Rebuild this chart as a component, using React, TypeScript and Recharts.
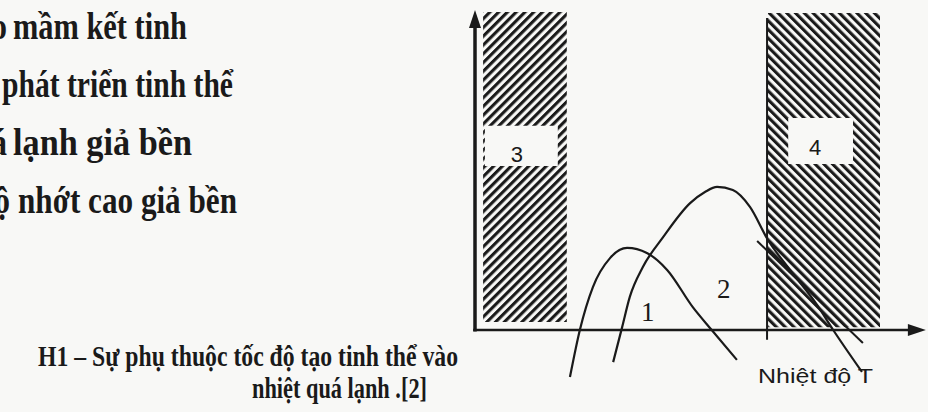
import React from 'react';
import { ComposedChart, Line, XAxis, YAxis, ReferenceArea, ReferenceLine, ReferenceDot } from 'recharts';

// curve 1 (nucleation rate) – undercooling T vs rate v
const curve1T = [21.1, 23.3, 26.2, 30.0, 33.8, 38.2, 42.7, 48.4, 52.6, 58.2];
const curve1V = [-14.8, 0, 13.5, 22.6, 25.8, 24.2, 18.9, 7.2, 0, -9.4];

// curve 2 (growth rate)
const curve2T = [30.7, 32.7, 34.4, 37.3, 41.8, 47.8, 51.1, 53.8, 57.3, 61.1, 65.1, 70.0, 76.0, 79.6, 86.0];
const curve2V = [-10.1, 0.9, 10.4, 19.8, 29.2, 39.9, 43.4, 45.0, 44.0, 38.7, 28.3, 18.9, 7.9, 0, -13.2];

// extra straight trace crossing zone 4
const traceT = [62.7, 86.2];
const traceV = [28.0, -4.1];

// hatched zones [T1, T2, v1, v2] and their label boxes
const zone3 = [1.8, 20.4, 2.5, 100];
const zone4 = [65.1, 90.0, 0.9, 99.7];
const box3 = [2.2, 18.4, 51.6, 64.2];
const box4 = [69.6, 84.0, 52.2, 66.7];
const zoneLabels = [
  { name: '3', t: 9.3, v: 55.3 },
  { name: '4', t: 75.6, v: 57.5 },
];
const curveLabels = [
  { name: '1', t: 38.4, v: 5.7 },
  { name: '2', t: 55.3, v: 13.2 },
];
const zone4Edge = [64.9, 98.1, -3.1];

// legend lines, cut by the left page edge: hidden head + visible tail
const legendHeads = ['Tốc độ tạo', 'Tốc độ', 'Vùng quá', 'Vùng độ'];
const legendTails = ['mầm kết tinh', 'phát triển tinh thể', 'lạnh giả bền', 'nhớt cao giả bền'];
const captionLines = ['H1 – Sự phụ thuộc tốc độ tạo tinh thể vào', 'nhiệt quá lạnh .[2]'];
const xAxisLabel = 'Nhiệt độ T';

const W = 928;
const H = 412;
const ORIGIN_X = 475;
const ORIGIN_Y = 330;
const PX_T = 4.5;
const PX_V = 3.18;
const xDomain = [-ORIGIN_X / PX_T, (W - ORIGIN_X) / PX_T];
const yDomain = [-(H - ORIGIN_Y) / PX_V, ORIGIN_Y / PX_V];

const INK = '#1a1a1a';
const PAPER = '#f8f8f6';
const serif = "'Liberation Serif', 'Times New Roman', serif";
const sans = "'Liberation Sans', Arial, sans-serif";

const toRows = (ts: number[], vs: number[]) => ts.map((t, i) => ({ t, v: vs[i] }));

const upArrow = (p: any) => (
  <polygon points={`${p.cx},${p.cy} ${p.cx - 6},${p.cy + 18} ${p.cx + 6},${p.cy + 18}`} fill={INK} />
);
const rightArrow = (p: any) => (
  <polygon points={`${p.cx},${p.cy} ${p.cx - 18},${p.cy - 6} ${p.cx - 18},${p.cy + 6}`} fill={INK} />
);

const headEnds = [7, -5, 7, 10];
const tailStarts = [13, 2, 13, 18];
const tailEnds = [187, 233, 192, 237];
const legendBase = [39, 97, 155, 213];

export default function App() {
  return (
    <div style={{ position: 'absolute', left: 0, top: 0, width: W, height: H, overflow: 'hidden', background: PAPER }}>
      <style>{'.recharts-line-curve { stroke-dasharray: none !important; }'}</style>
      <ComposedChart width={W} height={H} margin={{ top: 0, right: 0, bottom: 0, left: 0 }}>
        <defs>
          <pattern id="hatchUp" width="6.2" height="6.2" patternUnits="userSpaceOnUse" patternTransform="rotate(45)">
            <rect width="3.1" height="6.2" fill={INK} />
          </pattern>
          <pattern id="hatchDown" width="6.2" height="6.2" patternUnits="userSpaceOnUse" patternTransform="rotate(-45)">
            <rect width="3.1" height="6.2" fill={INK} />
          </pattern>
        </defs>
        <XAxis type="number" dataKey="t" domain={xDomain} hide allowDataOverflow />
        <YAxis type="number" domain={yDomain} hide allowDataOverflow />

        <ReferenceArea x1={zone3[0]} x2={zone3[1]} y1={zone3[2]} y2={zone3[3]} fill="url(#hatchUp)" fillOpacity={1} stroke="none" />
        <ReferenceArea x1={zone4[0]} x2={zone4[1]} y1={zone4[2]} y2={zone4[3]} fill="url(#hatchDown)" fillOpacity={1} stroke="none" />
        <ReferenceArea x1={box3[0]} x2={box3[1]} y1={box3[2]} y2={box3[3]} fill={PAPER} fillOpacity={1} stroke="none" />
        <ReferenceArea x1={box4[0]} x2={box4[1]} y1={box4[2]} y2={box4[3]} fill={PAPER} fillOpacity={1} stroke="none" />

        <ReferenceLine
          segment={[{ x: zone4Edge[0], y: zone4Edge[1] }, { x: zone4Edge[0], y: zone4Edge[2] }]}
          stroke={INK}
          strokeWidth={2}
        />
        {/* axes */}
        <ReferenceLine segment={[{ x: 0, y: 95 }, { x: 0, y: -0.5 }]} stroke={INK} strokeWidth={3.5} />
        <ReferenceLine segment={[{ x: -0.4, y: 0 }, { x: 97, y: 0 }]} stroke={INK} strokeWidth={2.5} />
        <ReferenceDot x={0} y={100.6} r={6} shape={upArrow} />
        <ReferenceDot x={100.2} y={0} r={6} shape={rightArrow} />

        <Line data={toRows(curve1T, curve1V)} dataKey="v" type="monotone" stroke={INK} strokeWidth={2.2} dot={false} activeDot={false} isAnimationActive={false} />
        <Line data={toRows(curve2T, curve2V)} dataKey="v" type="monotone" stroke={INK} strokeWidth={2.2} dot={false} activeDot={false} isAnimationActive={false} />
        <Line data={toRows(traceT, traceV)} dataKey="v" type="linear" stroke={INK} strokeWidth={2} dot={false} activeDot={false} isAnimationActive={false} />

        {zoneLabels.map((l) => (
          <ReferenceDot key={l.name} x={l.t} y={l.v} r={0} fill="none" stroke="none"
            label={{ value: l.name, position: 'center', fill: INK, fontSize: 22, fontFamily: sans }} />
        ))}
        {curveLabels.map((l) => (
          <ReferenceDot key={l.name} x={l.t} y={l.v} r={0} fill="none" stroke="none"
            label={{ value: l.name, position: 'center', fill: INK, fontSize: 27, fontFamily: serif }} />
        ))}
      </ComposedChart>

      <svg width={W} height={H} style={{ position: 'absolute', left: 0, top: 0, pointerEvents: 'none' }}>
        {legendTails.map((s, i) => (
          <g key={s} fontFamily={serif} fontWeight="bold" fontSize={37} fill={INK}>
            <text transform={`translate(${headEnds[i]},${legendBase[i]}) scale(0.85,1)`} textAnchor="end">{legendHeads[i]}</text>
            <text x={tailStarts[i]} y={legendBase[i]} textLength={tailEnds[i] - tailStarts[i]} lengthAdjust="spacingAndGlyphs">{s}</text>
          </g>
        ))}
        <text x={38} y={366} textLength={420} lengthAdjust="spacingAndGlyphs" fontFamily={serif} fontWeight="bold" fontSize={29} fill={INK}>
          {captionLines[0]}
        </text>
        <text x={252} y={398} textLength={175} lengthAdjust="spacingAndGlyphs" fontFamily={serif} fontWeight="bold" fontSize={29} fill={INK}>
          {captionLines[1]}
        </text>
        <text x={758} y={383} textLength={115} lengthAdjust="spacingAndGlyphs" fontFamily={sans} fontSize={21} fill={INK}>
          {xAxisLabel}
        </text>
      </svg>
    </div>
  );
}
